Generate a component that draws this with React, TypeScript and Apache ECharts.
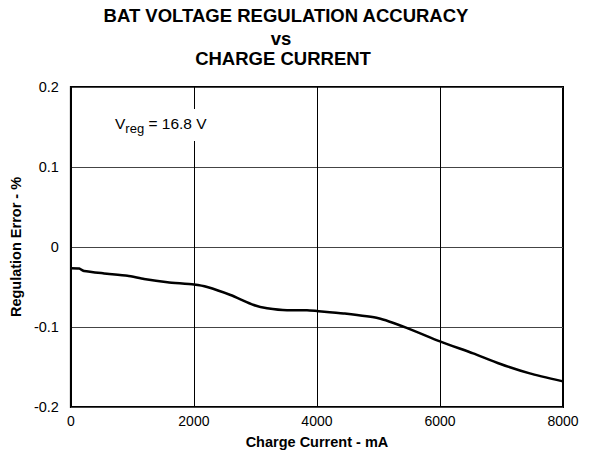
import React, { useEffect, useRef } from "react";
import * as echarts from "echarts";

const current = [0, 135, 216, 540, 920, 1190, 1570, 2000, 2216, 2595, 2973, 3190, 3514, 3838, 4000, 4432, 5000, 5459, 6000, 6540, 6973, 7460, 8000];
const regError = [-0.0266, -0.027, -0.030, -0.033, -0.036, -0.040, -0.044, -0.047, -0.050, -0.060, -0.0725, -0.0767, -0.079, -0.079, -0.080, -0.083, -0.089, -0.101, -0.118, -0.133, -0.146, -0.158, -0.168];
const titleLines = ["BAT VOLTAGE REGULATION ACCURACY", "vs", "CHARGE CURRENT"];
const xTitle = "Charge Current - mA";
const yTitle = "Regulation Error - %";

const FONT = "Liberation Sans, Arial, sans-serif";

export default function App() {
  const ref = useRef<HTMLDivElement>(null);
  useEffect(() => {
    if (!ref.current) return;
    const chart = echarts.init(ref.current, undefined, { renderer: "svg" });
    const titleStyle = (text: string, x: number, y: number) => ({
      type: "text",
      style: {
        x,
        y,
        text,
        fontFamily: FONT,
        fontSize: 18.5,
        fontWeight: "bold",
        fill: "#000",
        align: "center",
        verticalAlign: "middle",
      },
    });
    chart.setOption({
      animation: false,
      backgroundColor: "#fff",
      grid: {
        left: 70,
        right: 26,
        top: 87,
        bottom: 47,
        show: true,
        borderColor: "#000",
        borderWidth: 2,
        containLabel: false,
      },
      xAxis: {
        type: "value",
        min: 0,
        max: 8000,
        interval: 2000,
        name: xTitle,
        nameLocation: "middle",
        nameGap: 27,
        nameTextStyle: { fontFamily: FONT, fontSize: 14.5, fontWeight: "bold", color: "#000" },
        axisLine: { show: false },
        axisTick: { show: false },
        axisLabel: { fontFamily: FONT, fontSize: 14, color: "#000", margin: 7, formatter: (v: number) => String(v) },
        splitLine: { show: true, lineStyle: { color: "#000", width: 1 } },
      },
      yAxis: {
        type: "value",
        min: -0.2,
        max: 0.2,
        interval: 0.1,
        name: yTitle,
        nameLocation: "middle",
        nameGap: 44,
        nameTextStyle: { fontFamily: FONT, fontSize: 14.5, fontWeight: "bold", color: "#000" },
        axisLine: { show: false },
        axisTick: { show: false },
        axisLabel: { fontFamily: FONT, fontSize: 14.5, color: "#000", margin: 12 },
        splitLine: { show: true, lineStyle: { color: "#444", width: 1 } },
      },
      graphic: [
        titleStyle(titleLines[0], 286, 15),
        titleStyle(titleLines[1], 281, 38),
        titleStyle(titleLines[2], 283, 58),
        {
          type: "text",
          z: 100,
          style: {
            x: 112,
            y: 109,
            text: "{a|V}{b|reg}{a| = 16.8 V}",
            backgroundColor: "#fff",
            padding: [2, 3, 2, 3],
            rich: {
              a: { fontFamily: FONT, fontSize: 15.5, color: "#000", lineHeight: 28, verticalAlign: "top", padding: [4, 0, 0, 0] },
              b: { fontFamily: FONT, fontSize: 13, color: "#000", lineHeight: 28, verticalAlign: "top", padding: [11, 0, 0, 0] },
            },
          },
        },
      ],
      series: [
        {
          type: "line",
          data: current.map((c, i) => [c, regError[i]]),
          showSymbol: false,
          smooth: 0.2,
          lineStyle: { color: "#000", width: 2.5 },
          z: 5,
        },
      ],
    });
    return () => chart.dispose();
  }, []);
  return <div ref={ref} style={{ width: 589, height: 454, position: "absolute", left: 0, top: 0 }} />;
}
